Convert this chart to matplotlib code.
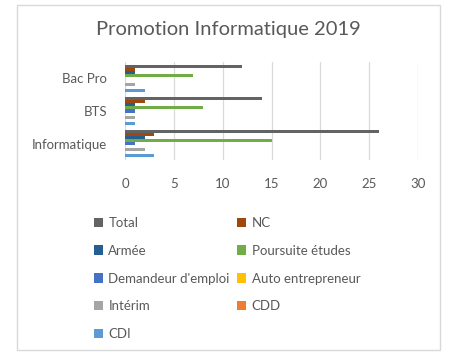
import numpy as np
import matplotlib.pyplot as plt
from matplotlib.patches import Rectangle

plt.rcParams['font.family'] = ['Lato', 'DejaVu Sans']

# Data (categories from bottom to top, series from bottom bar to top bar)
categories = ["Informatique", "BTS", "Bac Pro"]
series = ["CDI", "CDD", "Intérim", "Auto entrepreneur", "Demandeur d'emploi",
          "Poursuite études", "Armée", "NC", "Total"]
values = {
    "CDI":                [3, 1, 2],
    "CDD":                [0, 0, 0],
    "Intérim":            [2, 1, 1],
    "Auto entrepreneur":  [0, 0, 0],
    "Demandeur d'emploi": [1, 1, 0],
    "Poursuite études":   [15, 8, 7],
    "Armée":              [2, 1, 1],
    "NC":                 [3, 2, 1],
    "Total":              [26, 14, 12],
}
colors = {
    "CDI": "#5B9BD5", "CDD": "#ED7D31", "Intérim": "#A5A5A5",
    "Auto entrepreneur": "#FFC000", "Demandeur d'emploi": "#4472C4",
    "Poursuite études": "#70AD47", "Armée": "#255E91", "NC": "#9E480E",
    "Total": "#636363",
}
xticks = [0, 5, 10, 15, 20, 25, 30]

text_col = "#595959"

fig = plt.figure(figsize=(4.63, 3.56), dpi=100)
ax = fig.add_axes([125/463, 1-160/356, (418-125)/463, (160-62)/356])

y = np.arange(len(categories))
h = 0.83 / len(series)
bars = {}
for j, s in enumerate(series):
    bars[s] = ax.barh(y + (j - 4) * h, values[s], height=h, color=colors[s], label=s)

ax.set_xlim(0, 30)
ax.set_ylim(-0.5, 2.5)
ax.set_xticks(xticks)
ax.set_yticks(y)
ax.set_yticklabels(categories)
ax.grid(axis='x', color="#D9D9D9", linewidth=0.9)
ax.set_axisbelow(True)
for sp in ax.spines.values():
    sp.set_visible(False)
ax.tick_params(length=0, labelsize=9.5, colors=text_col)
ax.tick_params(axis='x', pad=13)
ax.tick_params(axis='y', pad=13)

fig.text(0.493, 1 - 30/356, "Promotion Informatique 2019", ha='center', va='center',
         fontsize=14.5, color=text_col)

# Legend, row-major like Excel
order = ["Total", "Armée", "Demandeur d'emploi", "Intérim", "CDI",
         "NC", "Poursuite études", "Auto entrepreneur", "CDD"]
fig.legend([bars[s] for s in order], order, loc='upper left',
           bbox_to_anchor=(82/463, 1 - 205/356), ncol=2, frameon=False,
           fontsize=9.5, labelcolor=text_col, handlelength=0.7, handleheight=0.7,
           handletextpad=0.4, labelspacing=1.2, columnspacing=0.55)

fig.add_artist(Rectangle((17/463, 1 - 350/356), (440-17)/463, (350-5)/356,
                         transform=fig.transFigure, fill=False,
                         edgecolor="#D9D9D9", linewidth=1))

fig.savefig("out.png", dpi=100, facecolor="white")
